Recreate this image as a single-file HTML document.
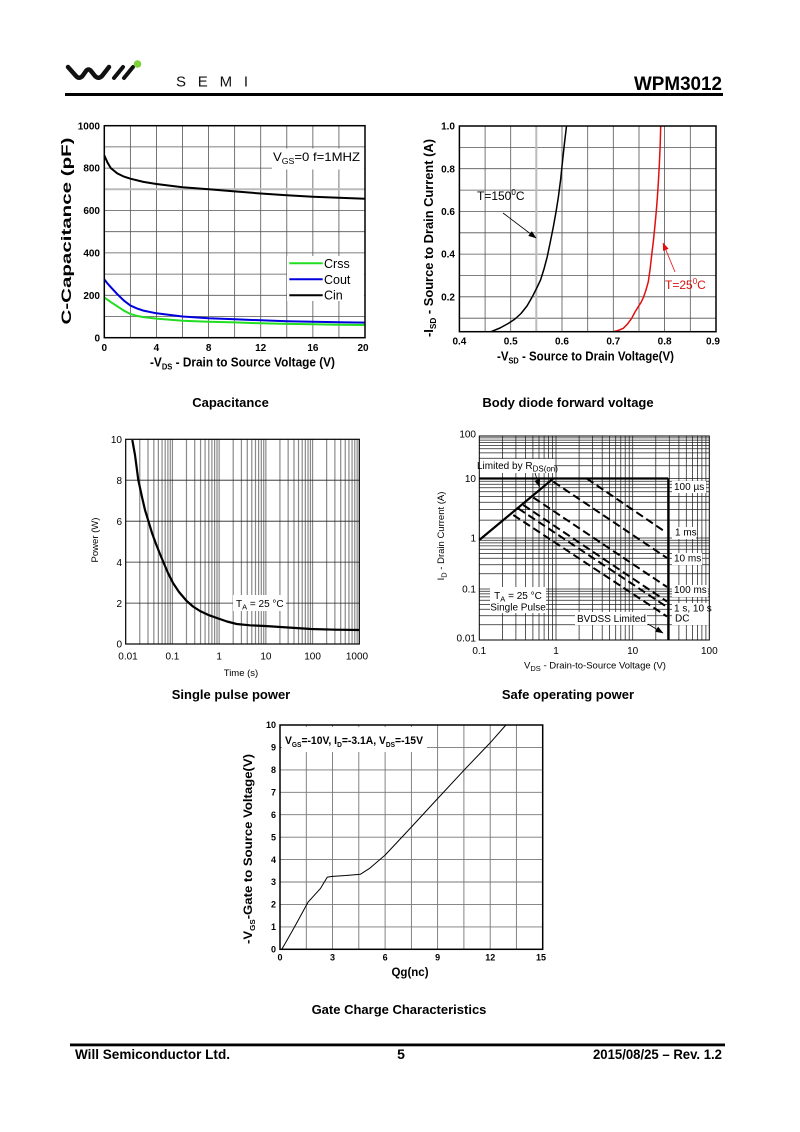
<!DOCTYPE html>
<html><head><meta charset="utf-8"><style>
html,body{margin:0;padding:0;background:#fff;}
svg{display:block;}
text{font-family:"Liberation Sans",Arial,sans-serif;}
</style></head><body>
<svg width="800" height="1132" viewBox="0 0 800 1132" xmlns="http://www.w3.org/2000/svg">
<defs>
<marker id="ab" markerWidth="8" markerHeight="6" refX="7.5" refY="3" orient="auto" markerUnits="userSpaceOnUse"><path d="M0,0 L8,3 L0,6 z" fill="#000"/></marker>
<marker id="ar" markerWidth="8" markerHeight="6" refX="7.5" refY="3" orient="auto" markerUnits="userSpaceOnUse"><path d="M0,0 L8,3 L0,6 z" fill="#e01010"/></marker>
</defs>
<rect width="800" height="1132" fill="#fff"/>

<!-- HEADER -->
<path d="M68,67 L76,76 Q79,79.5 82.5,76 L86,71 Q88.5,68 91,71 L95,76 Q98.5,79.5 102,76 L109,67" fill="none" stroke="#111" stroke-width="4.5" stroke-linejoin="round" stroke-linecap="round"/>
<path d="M114,78 L123,67 M124,78 L133,67" stroke="#111" stroke-width="4" stroke-linecap="round"/>
<circle cx="137.5" cy="64" r="3.8" fill="#7fd13b"/>
<text x="176" y="86.5" font-size="15" textLength="72" lengthAdjust="spacing" fill="#111">SEMI</text>
<text x="722" y="90" font-size="19" font-weight="bold" text-anchor="end" textLength="88" lengthAdjust="spacingAndGlyphs">WPM3012</text>
<rect x="65" y="93" width="658" height="3" fill="#000"/>

<!-- CAPACITANCE -->
<path d="M130.37 125.7V337.7M156.44 125.7V337.7M182.51 125.7V337.7M208.58 125.7V337.7M234.65 125.7V337.7M260.72 125.7V337.7M286.79 125.7V337.7M312.86 125.7V337.7M338.93 125.7V337.7M104.3 316.5H365M104.3 295.3H365M104.3 274.1H365M104.3 252.9H365M104.3 231.7H365M104.3 210.5H365M104.3 168.1H365M104.3 146.9H365" stroke="#555" stroke-width="0.8" fill="none"/>
<line x1="104.3" y1="189.3" x2="365" y2="189.3" stroke="#bbb" stroke-width="2"/>
<rect x="272" y="148.5" width="92" height="21" fill="#fff"/>
<rect x="287" y="256" width="77" height="45" fill="#fff"/>
<text x="273" y="161" font-size="12" textLength="87" lengthAdjust="spacingAndGlyphs">V<tspan font-size="8" dy="3">GS</tspan><tspan dy="-3">=0 f=1MHZ</tspan></text>
<polyline fill="none" stroke="#000" stroke-width="2" points="104.3,155.4 107.5,162.5 110.8,168.1 117.3,173.4 123.9,176.6 130.4,178.7 143.4,181.9 156.4,184.0 182.5,187.2 208.6,189.3 234.7,191.4 260.7,193.5 286.8,195.2 312.9,196.7 338.9,197.8 365,198.8"/>
<polyline fill="none" stroke="#0000dd" stroke-width="2" points="104.3,279.4 107.6,283.6 110.8,287.2 117.3,294.2 123.9,300.6 130.4,305.5 136.9,308.4 143.4,310.6 156.4,313.3 182.5,316.5 208.6,318.2 234.7,319.3 260.7,320.3 286.8,321.2 312.9,321.8 338.9,322.2 365,322.6"/>
<polyline fill="none" stroke="#22dd22" stroke-width="2" points="104.3,297.4 110.8,302.1 117.3,306.3 123.9,310.6 130.4,314 136.9,315.9 143.4,317.1 156.4,318.6 182.5,320.7 208.6,321.8 234.7,322.4 260.7,323.3 286.8,323.9 312.9,324.3 338.9,324.8 365,325"/>
<line x1="289.3" y1="263.3" x2="322.7" y2="263.3" stroke="#22dd22" stroke-width="2"/>
<line x1="289.3" y1="279.3" x2="322.7" y2="279.3" stroke="#0000dd" stroke-width="2"/>
<line x1="289.3" y1="295.2" x2="322.7" y2="295.2" stroke="#000" stroke-width="2"/>
<g font-size="12.5"><text x="324" y="267.8">Crss</text><text x="324" y="283.8">Cout</text><text x="324" y="299.7">Cin</text></g>
<rect x="104.3" y="125.7" width="260.7" height="212" fill="none" stroke="#000" stroke-width="1.5"/>
<g font-size="10" font-weight="bold" text-anchor="end"><text x="100" y="129.3">1000</text><text x="100" y="171.7">800</text><text x="100" y="214.1">600</text><text x="100" y="256.5">400</text><text x="100" y="298.9">200</text><text x="100" y="341.3">0</text></g>
<g font-size="10" font-weight="bold" text-anchor="middle"><text x="104.3" y="351">0</text><text x="156.4" y="351">4</text><text x="208.6" y="351">8</text><text x="260.7" y="351">12</text><text x="312.9" y="351">16</text><text x="363" y="351">20</text></g>
<text transform="translate(71,231) rotate(-90)" font-size="13.5" font-weight="bold" text-anchor="middle" textLength="187" lengthAdjust="spacingAndGlyphs">C-Capacitance (pF)</text>
<text x="150" y="366.5" font-size="12.5" font-weight="bold" textLength="185" lengthAdjust="spacingAndGlyphs">-V<tspan font-size="8" dy="3">DS</tspan><tspan dy="-3"> - Drain to Source Voltage (V)</tspan></text>
<text x="230.5" y="407" font-size="13" font-weight="bold" text-anchor="middle">Capacitance</text>

<!-- BODY DIODE -->
<path d="M485.1 126V331.7M510.7 126V331.7M562 126V331.7M587.7 126V331.7M613.3 126V331.7M639 126V331.7M664.6 126V331.7M690.3 126V331.7M459.4 147.4H716M459.4 168.7H716M459.4 190.1H716M459.4 211.4H716M459.4 232.8H716M459.4 254.1H716M459.4 275.5H716M459.4 296.8H716M459.4 318.2H716" stroke="#555" stroke-width="0.8" fill="none"/>
<line x1="536.3" y1="126" x2="536.3" y2="331.7" stroke="#bbb" stroke-width="2"/>
<polyline fill="none" stroke="#000" stroke-width="1.5" stroke-linejoin="round" points="491,331.7 500,328 508.2,323.5 515,319 521.0,313.5 527,306 532.3,296.8 536.5,288.5 540.5,280.1 544,269 547.2,256.9 550.3,242 553.3,227.0 556,212 558.4,196.9 560.7,179 562.6,160.4 564.5,143 566.5,126"/>
<polyline fill="none" stroke="#e01010" stroke-width="1.5" stroke-linejoin="round" points="613.3,331.7 618,330.5 623.3,328.3 627.5,324 631.7,318.3 635,312 638.3,306.7 641,302.5 643.3,297.7 646,290 648.3,281.7 650,270 651.7,255 653.5,240 655,225 656.3,211 657.3,198.3 658.5,180 659.3,165 660.2,145 660.7,126"/>
<rect x="459.4" y="126" width="256.6" height="205.7" fill="none" stroke="#000" stroke-width="1.5"/>
<text x="477" y="200" font-size="12">T=150<tspan font-size="8" dy="-5">0</tspan><tspan dy="5">C</tspan></text>
<line x1="503" y1="213" x2="536" y2="238" stroke="#000" stroke-width="0.8" marker-end="url(#ab)"/>
<text x="665" y="289" font-size="12" fill="#e01010">T=25<tspan font-size="8" dy="-5">0</tspan><tspan dy="5">C</tspan></text>
<line x1="675" y1="272" x2="663" y2="243" stroke="#e01010" stroke-width="0.8" marker-end="url(#ar)"/>
<g font-size="10" font-weight="bold" text-anchor="end"><text x="455" y="129.6">1.0</text><text x="455" y="172.3">0.8</text><text x="455" y="215">0.6</text><text x="455" y="257.7">0.4</text><text x="455" y="300.4">0.2</text></g>
<g font-size="10" font-weight="bold" text-anchor="middle"><text x="459.4" y="344.5">0.4</text><text x="510.7" y="344.5">0.5</text><text x="562" y="344.5">0.6</text><text x="613.3" y="344.5">0.7</text><text x="664.6" y="344.5">0.8</text><text x="713" y="344.5">0.9</text></g>
<text transform="translate(433,238) rotate(-90)" font-size="12.5" font-weight="bold" text-anchor="middle" textLength="198" lengthAdjust="spacingAndGlyphs">-I<tspan font-size="8" dy="3">SD</tspan><tspan dy="-3"> - Source to Drain Current (A)</tspan></text>
<text x="497" y="360.5" font-size="12.5" font-weight="bold" textLength="177" lengthAdjust="spacingAndGlyphs">-V<tspan font-size="8" dy="3">SD</tspan><tspan dy="-3"> - Source to Drain Voltage(V)</tspan></text>
<text x="568" y="407" font-size="13" font-weight="bold" text-anchor="middle">Body diode forward voltage</text>

<!-- SINGLE PULSE POWER -->
<path d="M139.76 439.3V644M147.99 439.3V644M153.83 439.3V644M158.36 439.3V644M162.06 439.3V644M165.18 439.3V644M167.89 439.3V644M170.28 439.3V644M172.42 439.3V644M186.48 439.3V644M194.71 439.3V644M200.55 439.3V644M205.08 439.3V644M208.78 439.3V644M211.9 439.3V644M214.61 439.3V644M217 439.3V644M219.14 439.3V644M233.2 439.3V644M241.43 439.3V644M247.27 439.3V644M251.8 439.3V644M255.5 439.3V644M258.62 439.3V644M261.33 439.3V644M263.72 439.3V644M265.86 439.3V644M279.92 439.3V644M288.15 439.3V644M293.99 439.3V644M298.52 439.3V644M302.22 439.3V644M305.34 439.3V644M308.05 439.3V644M310.44 439.3V644M312.58 439.3V644M326.64 439.3V644M334.87 439.3V644M340.71 439.3V644M345.24 439.3V644M348.94 439.3V644M352.06 439.3V644M354.77 439.3V644M357.16 439.3V644" stroke="#8a8a8a" stroke-width="1.2" fill="none"/>
<path d="M125.7 603.1H359.3M125.7 562.1H359.3M125.7 521.2H359.3M125.7 480.2H359.3" stroke="#222" stroke-width="0.8" fill="none"/>
<rect x="233" y="595" width="53" height="16" fill="#fff"/>
<text x="236" y="607" font-size="10">T<tspan font-size="7.5" dy="2.5">A</tspan><tspan dy="-2.5"> = 25 °C</tspan></text>
<polyline fill="none" stroke="#000" stroke-width="2.2" stroke-linejoin="round" points="132.3,440 135,455 138.3,480 142,497 145,510 148.3,520.7 152,533 156,544 160,554 163.3,562 168,573 173,583 179,592 186.7,601 193,606.5 200,611 209,615.2 218.3,618.5 227,621.5 236.7,624 250,625.3 265,626 288,627.5 311,629 335,629.7 359.3,630"/>
<rect x="125.7" y="439.3" width="233.6" height="204.7" fill="none" stroke="#000" stroke-width="1.2"/>
<g font-size="10" text-anchor="end"><text x="122" y="443">10</text><text x="122" y="483.8">8</text><text x="122" y="524.8">6</text><text x="122" y="565.8">4</text><text x="122" y="606.8">2</text><text x="122" y="647.5">0</text></g>
<g font-size="10" text-anchor="middle"><text x="128" y="659.5">0.01</text><text x="172.4" y="659.5">0.1</text><text x="219.1" y="659.5">1</text><text x="265.9" y="659.5">10</text><text x="312.6" y="659.5">100</text><text x="357" y="659.5">1000</text></g>
<text transform="translate(98,540) rotate(-90)" font-size="9.5" text-anchor="middle">Power  (W)</text>
<text x="241" y="676" font-size="9.5" text-anchor="middle">Time (s)</text>
<text x="231" y="699" font-size="13" font-weight="bold" text-anchor="middle">Single pulse power</text>

<!-- SAFE OPERATING AREA -->
<path d="M502.4 436V640M515.9 436V640M525.5 436V640M532.9 436V640M539 436V640M544.1 436V640M548.5 436V640M552.5 436V640M556 436V640M579.1 436V640M592.6 436V640M602.2 436V640M609.6 436V640M615.7 436V640M620.8 436V640M625.2 436V640M629.2 436V640M632.7 436V640M655.8 436V640M669.3 436V640M678.9 436V640M686.3 436V640M692.4 436V640M697.5 436V640M701.9 436V640M705.9 436V640M479.3 437.9H709.3M479.3 440.1H709.3M479.3 442.6H709.3M479.3 445.4H709.3M479.3 448.8H709.3M479.3 452.9H709.3M479.3 458.2H709.3M479.3 465.7H709.3M479.3 481.2H709.3M479.3 484.3H709.3M479.3 487.7H709.3M479.3 491.7H709.3M479.3 496.4H709.3M479.3 502.2H709.3M479.3 509.6H709.3M479.3 520.1H709.3M479.3 538H709.3M479.3 540.3H709.3M479.3 542.9H709.3M479.3 545.9H709.3M479.3 549.3H709.3M479.3 553.4H709.3M479.3 558.3H709.3M479.3 564.7H709.3M479.3 573.7H709.3M479.3 589H709.3M479.3 591.3H709.3M479.3 593.9H709.3M479.3 596.9H709.3M479.3 600.3H709.3M479.3 604.4H709.3M479.3 609.3H709.3M479.3 615.7H709.3M479.3 624.7H709.3" stroke="#222" stroke-width="0.75" fill="none"/>
<line x1="479.3" y1="478.5" x2="709.3" y2="478.5" stroke="#222" stroke-width="0.75"/>
<rect x="476" y="459" width="78" height="14" fill="#fff"/>
<rect x="490" y="587" width="56" height="26" fill="#fff"/>
<rect x="575" y="612" width="72" height="13" fill="#fff"/>
<rect x="672" y="481" width="34" height="12" fill="#fff"/>
<rect x="672" y="527" width="24" height="12" fill="#fff"/>
<rect x="672" y="553" width="30" height="12" fill="#fff"/>
<rect x="672" y="585" width="36" height="12" fill="#fff"/>
<rect x="672" y="603" width="40" height="22" fill="#fff"/>
<line x1="479.3" y1="478.5" x2="668.3" y2="478.5" stroke="#000" stroke-width="2.2"/>
<line x1="668.3" y1="478.5" x2="668.3" y2="640" stroke="#000" stroke-width="2.2"/>
<line x1="479.3" y1="540" x2="553.3" y2="478.5" stroke="#000" stroke-width="2.2"/>
<g stroke="#000" stroke-width="2" stroke-dasharray="8 4">
<line x1="586.7" y1="478.5" x2="665" y2="531.7"/>
<line x1="553.3" y1="481.7" x2="667" y2="558"/>
<line x1="533.3" y1="497.5" x2="667" y2="587"/>
<line x1="523.3" y1="505" x2="667" y2="601.5"/>
<line x1="518.3" y1="508.5" x2="667" y2="607"/>
<line x1="513.3" y1="515" x2="667" y2="616.5"/>
</g>
<rect x="479.3" y="436" width="230" height="204" fill="none" stroke="#000" stroke-width="1"/>
<text x="477" y="469" font-size="10">Limited by R<tspan font-size="8" dy="2.5">DS(on)</tspan></text>
<line x1="535" y1="473" x2="539.5" y2="487" stroke="#000" stroke-width="0.8" marker-end="url(#ab)"/>
<text x="518" y="599" font-size="10" text-anchor="middle">T<tspan font-size="7.5" dy="2.5">A</tspan><tspan dy="-2.5"> = 25 °C</tspan></text>
<text x="518" y="610.5" font-size="10" text-anchor="middle">Single Pulse</text>
<text x="577" y="622" font-size="10">BVDSS Limited</text>
<line x1="648" y1="624" x2="663" y2="633" stroke="#000" stroke-width="0.8" marker-end="url(#ab)"/>
<g font-size="10"><text x="674" y="490">100 µs</text><text x="675" y="535.5">1 ms</text><text x="674" y="561.5">10 ms</text><text x="674" y="593">100 ms</text><text x="674" y="611.5">1 s, 10 s</text><text x="675" y="621.5">DC</text></g>
<g font-size="10" text-anchor="end"><text x="476" y="437.5">100</text><text x="476" y="482">10</text><text x="476" y="541.5">1</text><text x="476" y="592.5">0.1</text><text x="476" y="641.5">0.01</text></g>
<g font-size="10" text-anchor="middle"><text x="479.3" y="654">0.1</text><text x="556" y="654">1</text><text x="632.7" y="654">10</text><text x="709.3" y="654">100</text></g>
<text transform="translate(444,536) rotate(-90)" font-size="9.5" text-anchor="middle">I<tspan font-size="7.5" dy="2.5">D</tspan><tspan dy="-2.5"> - Drain Current (A)</tspan></text>
<text x="595" y="668.5" font-size="9.5" text-anchor="middle">V<tspan font-size="7.5" dy="2.5">DS</tspan><tspan dy="-2.5"> - Drain-to-Source Voltage (V)</tspan></text>
<text x="568" y="699" font-size="13" font-weight="bold" text-anchor="middle">Safe operating power</text>

<!-- GATE CHARGE -->
<path d="M306.3 725V949.3M332.5 725V949.3M358.8 725V949.3M385.1 725V949.3M411.4 725V949.3M437.6 725V949.3M463.9 725V949.3M490.2 725V949.3M516.4 725V949.3M280 926.9H542.7M280 904.4H542.7M280 882H542.7M280 859.6H542.7M280 837.2H542.7M280 814.7H542.7M280 792.3H542.7M280 769.9H542.7M280 747.4H542.7" stroke="#777" stroke-width="0.9" fill="none"/>
<rect x="282" y="727" width="145" height="25" fill="#fff"/>
<text x="285" y="744" font-size="11" font-weight="bold" textLength="138" lengthAdjust="spacingAndGlyphs">V<tspan font-size="7" dy="3">GS</tspan><tspan dy="-3">=-10V, I</tspan><tspan font-size="7" dy="3">D</tspan><tspan dy="-3">=-3.1A, V</tspan><tspan font-size="7" dy="3">DS</tspan><tspan dy="-3">=-15V</tspan></text>
<polyline fill="none" stroke="#000" stroke-width="1" stroke-linejoin="round" points="281.8,949.3 287,940.3 295.8,924.6 308,902.2 320.3,888.7 327.3,877.1 332.5,876.4 346,875.5 360.5,874.2 369.3,868.6 385.1,855.1 411.3,827.1 437.6,798.6 463.9,770.3 490.1,742.9 505.9,725"/>
<rect x="280" y="725" width="262.7" height="224.3" fill="none" stroke="#000" stroke-width="1.5"/>
<g font-size="9" font-weight="bold" text-anchor="end"><text x="276" y="728">10</text><text x="276" y="750.6">9</text><text x="276" y="773">8</text><text x="276" y="795.5">7</text><text x="276" y="817.9">6</text><text x="276" y="840.4">5</text><text x="276" y="862.8">4</text><text x="276" y="885.2">3</text><text x="276" y="907.6">2</text><text x="276" y="930.1">1</text><text x="276" y="952.5">0</text></g>
<g font-size="9" font-weight="bold" text-anchor="middle"><text x="280" y="960.5">0</text><text x="332.5" y="960.5">3</text><text x="385.1" y="960.5">6</text><text x="437.6" y="960.5">9</text><text x="490.2" y="960.5">12</text><text x="541" y="960.5">15</text></g>
<text transform="translate(252,849) rotate(-90)" font-size="11.5" font-weight="bold" text-anchor="middle" textLength="190" lengthAdjust="spacingAndGlyphs">-V<tspan font-size="7" dy="3">GS</tspan><tspan dy="-3">-Gate to Source Voltage(V)</tspan></text>
<text x="410" y="976" font-size="11.5" font-weight="bold" text-anchor="middle">Qg(nc)</text>
<text x="399" y="1014" font-size="13" font-weight="bold" text-anchor="middle">Gate Charge Characteristics</text>

<!-- FOOTER -->
<rect x="70" y="1043.5" width="655" height="2.8" fill="#000"/>
<text x="75" y="1059" font-size="14" font-weight="bold" textLength="155" lengthAdjust="spacingAndGlyphs">Will Semiconductor Ltd.</text>
<text x="401" y="1059" font-size="14" font-weight="bold" text-anchor="middle">5</text>
<text x="722" y="1059" font-size="14" font-weight="bold" text-anchor="end" textLength="129" lengthAdjust="spacingAndGlyphs">2015/08/25 – Rev. 1.2</text>
</svg>
</body></html>
